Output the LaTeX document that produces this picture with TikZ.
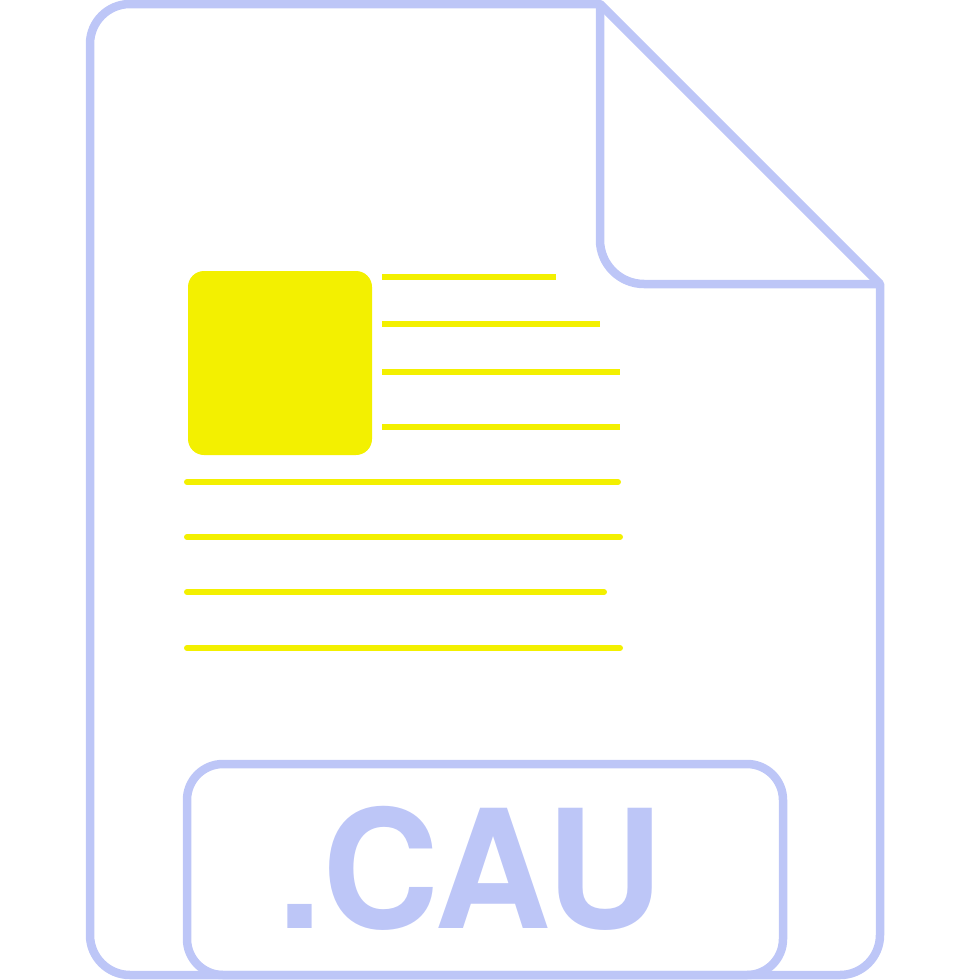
\documentclass[tikz,border=0pt]{standalone}
\usepackage{xcolor}
\usepackage{fontspec}
\setmainfont{TeX Gyre Heros}
\definecolor{pageblue}{HTML}{BDC6F7}
\definecolor{markyellow}{HTML}{F3F000}
\tikzset{
  outline/.style={draw=pageblue, line width=8.5pt, line join=round},
  textline/.style={draw=markyellow, line width=6pt},
  roundline/.style={textline, line cap=round},
}
\begin{document}
\begin{tikzpicture}[x=1pt, y=-1pt]
	\useasboundingbox (0,0) rectangle (970,980);
	% Page
	\draw[outline] (600,4) -- (880,284) -- (880,935)
		arc[start angle=0, end angle=90, radius=40] -- (130,975)
		arc[start angle=90, end angle=180, radius=40] -- (90,44)
		arc[start angle=180, end angle=270, radius=40] -- cycle;
	% Fold
	\draw[outline] (600,4) -- (600,240)
		arc[start angle=180, end angle=90, radius=44] -- (880,284);
	% Picture
	\fill[markyellow, rounded corners=16pt] (188,271) rectangle (372,455);
	% Lines
	\draw[textline] (382,277) -- (556,277);
	\draw[textline] (382,324) -- (600,324);
	\draw[textline] (382,372) -- (620,372);
	\draw[textline] (382,427) -- (620,427);
	\draw[roundline] (187,482) -- (618,482);
	\draw[roundline] (187,537) -- (620,537);
	\draw[roundline] (187,592) -- (604,592);
	\draw[roundline] (187,648) -- (620,648);
	% Label
	\draw[outline] (187,975) [rounded corners=36pt] -- (187,764) -- (783,764) -- (783,975) -- cycle;
	\node[text=pageblue, anchor=base west, inner sep=0pt, xscale=0.98, font=\fontsize{165}{165}\selectfont\bfseries] (ext) at (277,928) {.CAU};
\end{tikzpicture}
\end{document}
